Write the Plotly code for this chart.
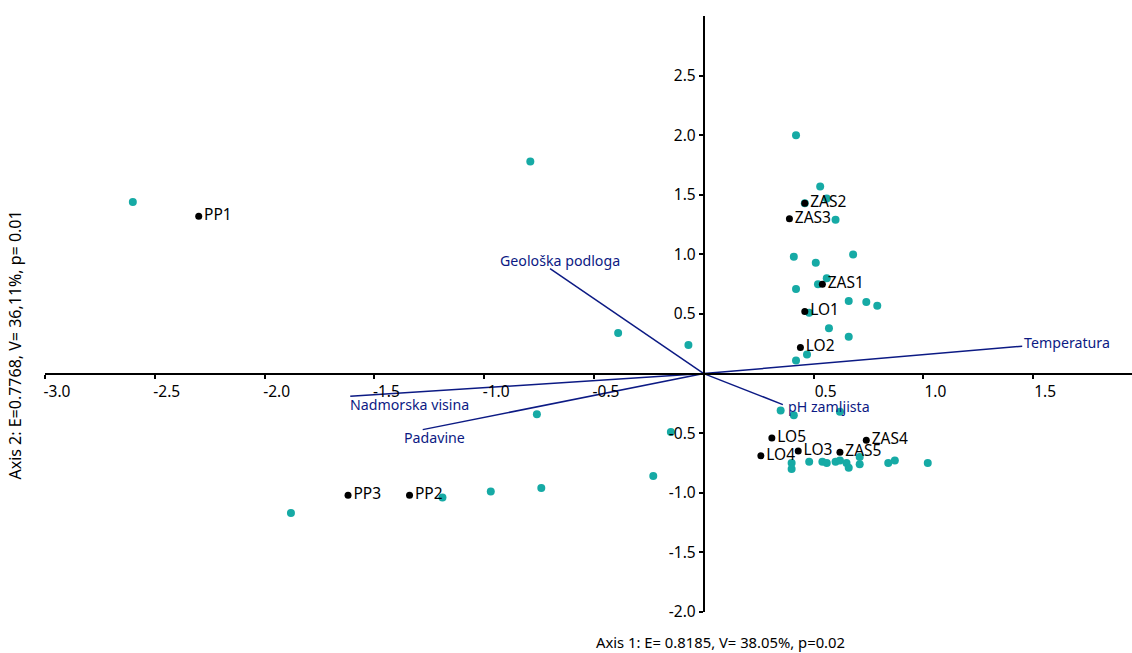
import plotly.graph_objects as go

# Sites (black points)
site_names = ["PP1", "PP2", "PP3", "ZAS1", "ZAS2", "ZAS3", "ZAS4", "ZAS5",
              "LO1", "LO2", "LO3", "LO4", "LO5"]
site_x = [-2.30, -1.34, -1.62, 0.54, 0.46, 0.39, 0.74, 0.62, 0.46, 0.44, 0.43, 0.26, 0.31]
site_y = [1.32, -1.02, -1.02, 0.75, 1.43, 1.30, -0.56, -0.66, 0.52, 0.22, -0.65, -0.69, -0.54]

# Species (teal points)
sp_x = [-2.60, -0.79, -0.39, -0.07, -0.76, -0.15, -0.23, -0.74, -0.97, -1.19, -1.88,
        0.42, 0.53, 0.46, 0.56, 0.60, 0.41, 0.68, 0.51, 0.56, 0.52, 0.42, 0.66, 0.74,
        0.79, 0.48, 0.57, 0.66, 0.47, 0.42,
        0.35, 0.41, 0.62,
        0.40, 0.40, 0.48, 0.54, 0.56, 0.60, 0.62, 0.65, 0.66, 0.71, 0.71, 0.84, 0.87, 1.02]
sp_y = [1.44, 1.78, 0.34, 0.24, -0.34, -0.49, -0.86, -0.96, -0.99, -1.04, -1.17,
        2.00, 1.57, 1.43, 1.47, 1.29, 0.98, 1.00, 0.93, 0.80, 0.75, 0.71, 0.61, 0.60,
        0.57, 0.51, 0.38, 0.31, 0.16, 0.11,
        -0.31, -0.35, -0.32,
        -0.75, -0.80, -0.74, -0.74, -0.75, -0.74, -0.73, -0.75, -0.79, -0.70, -0.76, -0.75, -0.73, -0.75]

# Environmental vectors
vec_names = ["Temperatura", "Geološka podloga", "Nadmorska visina", "Padavine", "pH zamljista"]
vec_x = [1.45, -0.70, -1.61, -1.28, 0.36]
vec_y = [0.23, 0.88, -0.19, -0.47, -0.26]

x_ticks = [-3.0, -2.5, -2.0, -1.5, -1.0, -0.5, 0.5, 1.0, 1.5]
y_ticks = [-2.0, -1.5, -1.0, -0.5, 0.5, 1.0, 1.5, 2.0, 2.5]

x_title = "Axis 1: E= 0.8185, V= 38.05%, p=0.02"
y_title = "Axis 2: E=0.7768, V= 36,11%, p= 0.01"

NAVY = "#0c1a84"
TEAL = "#16aaa5"
FONT = "Noto Sans"

fig = go.Figure()

# vectors
for name, vx, vy in zip(vec_names, vec_x, vec_y):
    fig.add_trace(go.Scatter(x=[0, vx], y=[0, vy], mode="lines",
                             line=dict(color=NAVY, width=1.5),
                             hoverinfo="skip", showlegend=False))

fig.add_trace(go.Scatter(x=sp_x, y=sp_y, mode="markers",
                         marker=dict(color=TEAL, size=8, line=dict(width=0)),
                         showlegend=False))

fig.add_trace(go.Scatter(x=site_x, y=site_y, mode="markers+text",
                         text=site_names, textposition="middle right",
                         textfont=dict(family=FONT, size=15.5, color="black"),
                         marker=dict(color="black", size=7),
                         showlegend=False))

# vector labels
label_cfg = {
    "Temperatura": dict(xanchor="left", yanchor="middle", xshift=0, yshift=4),
    "Geološka podloga": dict(xanchor="center", yanchor="middle", xshift=10, yshift=8),
    "Nadmorska visina": dict(xanchor="left", yanchor="middle", xshift=-2, yshift=-8),
    "Padavine": dict(xanchor="center", yanchor="middle", xshift=12, yshift=-8),
    "pH zamljista": dict(xanchor="left", yanchor="middle", xshift=3, yshift=-2),
}
for name, vx, vy in zip(vec_names, vec_x, vec_y):
    fig.add_annotation(x=vx, y=vy, text=name, showarrow=False,
                       font=dict(family=FONT, size=14.2, color=NAVY), **label_cfg[name])

fig.add_annotation(x=0.621, y=-0.0503, xref="paper", yref="paper", text=x_title,
                   showarrow=False, font=dict(family=FONT, size=14.8, color="black"),
                   xanchor="center", yanchor="middle")
fig.add_annotation(x=-0.028, y=0.448, xref="paper", yref="paper", text=y_title,
                   showarrow=False, textangle=-90,
                   font=dict(family=FONT, size=16, color="black"),
                   xanchor="center", yanchor="middle")

fig.update_layout(
    width=1132, height=653,
    margin=dict(l=45, r=0, t=16, b=41),
    paper_bgcolor="white", plot_bgcolor="white",
    font=dict(family=FONT, size=15, color="black"),
    xaxis=dict(range=[-3.0, 1.95], anchor="free", position=0.4,
               showgrid=False, zeroline=False, showline=True, linecolor="black", linewidth=2,
               ticks="outside", ticklen=4, tickwidth=1.5, tickcolor="black",
               tickvals=x_ticks, ticktext=[f"{v:.1f}" for v in x_ticks],
               ticklabelshift=12, tickfont=dict(family=FONT, size=15.5, color="black")),
    yaxis=dict(range=[-2.0, 3.0], anchor="free", position=3.0 / 4.95,
               showgrid=False, zeroline=False, showline=True, linecolor="black", linewidth=2,
               ticks="outside", ticklen=4, tickwidth=1.5, tickcolor="black",
               tickvals=y_ticks, ticktext=[f"{v:.1f}" for v in y_ticks],
               tickfont=dict(family=FONT, size=15.5, color="black")),
)

fig.write_html("out.html")
